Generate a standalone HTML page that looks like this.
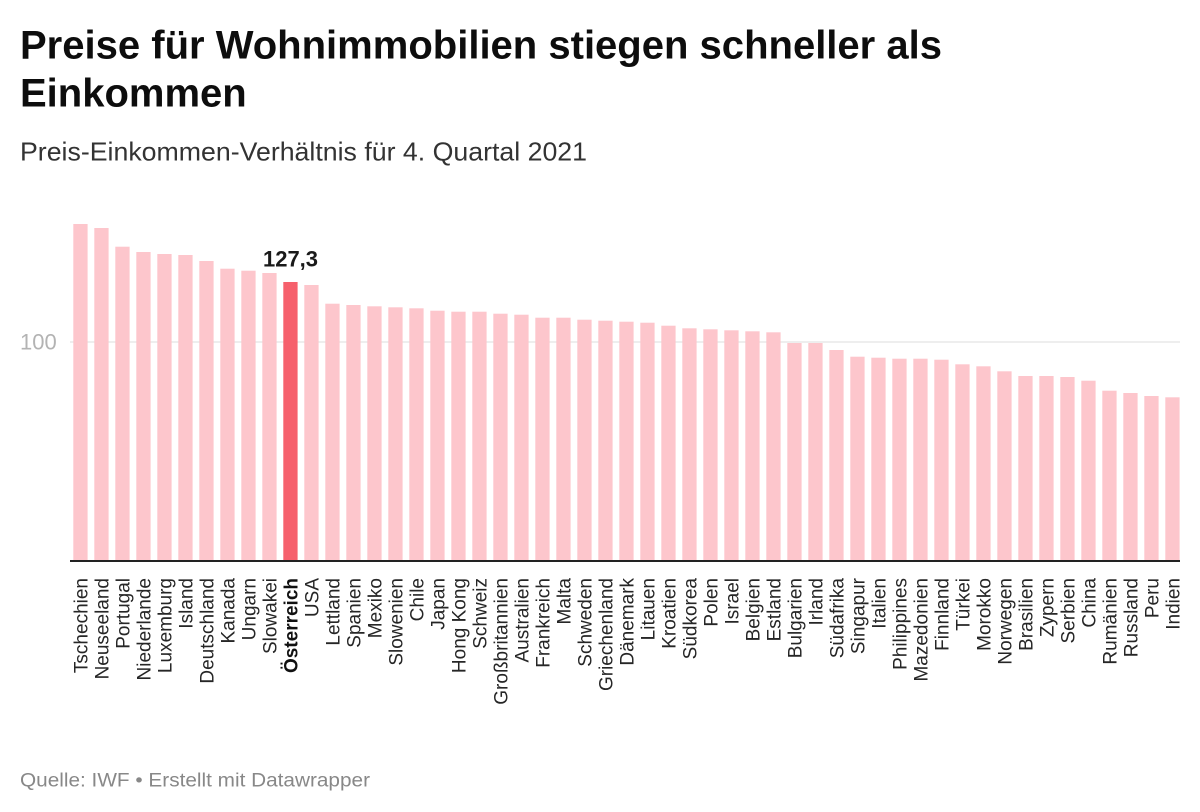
<!DOCTYPE html>
<html>
<head>
<meta charset="utf-8">
<style>
  html,body{margin:0;padding:0;background:#fff;}
  svg{display:block;}
  text{font-family:"Liberation Sans", Arial, sans-serif;}
</style>
</head>
<body>
<svg width="1200" height="812" viewBox="0 0 1200 812" xmlns="http://www.w3.org/2000/svg">
  <rect x="0" y="0" width="1200" height="812" fill="#ffffff"/>
  <!-- Title -->
  <text x="20" y="58.3" font-size="40" font-weight="bold" fill="#0d0d0d" textLength="922" lengthAdjust="spacingAndGlyphs">Preise für Wohnimmobilien stiegen schneller als</text>
  <text x="20" y="106.7" font-size="40" font-weight="bold" fill="#0d0d0d">Einkommen</text>
  <!-- Subtitle -->
  <text x="20" y="160.5" font-size="26" fill="#333333" textLength="567" lengthAdjust="spacingAndGlyphs">Preis-Einkommen-Verhältnis für 4. Quartal 2021</text>

  <!-- Gridline & label -->
  <line x1="70" y1="342" x2="1180" y2="342" stroke="#e3e3e3" stroke-width="1.2"/>
  <text x="20" y="349.5" font-size="22" fill="#b3b3b3">100</text>

  <!-- Bars -->
  <g fill="#fdc6cc">
    <rect x="73.3" y="224" width="14.3" height="337"/>
    <rect x="94.3" y="228" width="14.3" height="333"/>
    <rect x="115.3" y="246.7" width="14.3" height="314.3"/>
    <rect x="136.3" y="252" width="14.3" height="309"/>
    <rect x="157.3" y="254" width="14.3" height="307"/>
    <rect x="178.3" y="255" width="14.3" height="306"/>
    <rect x="199.3" y="261" width="14.3" height="300"/>
    <rect x="220.3" y="268.7" width="14.3" height="292.3"/>
    <rect x="241.3" y="270.7" width="14.3" height="290.3"/>
    <rect x="262.3" y="273" width="14.3" height="288"/>
    <rect x="304.3" y="285" width="14.3" height="276"/>
    <rect x="325.3" y="303.7" width="14.3" height="257.3"/>
    <rect x="346.3" y="305" width="14.3" height="256"/>
    <rect x="367.3" y="306.3" width="14.3" height="254.7"/>
    <rect x="388.3" y="307.3" width="14.3" height="253.7"/>
    <rect x="409.3" y="308.3" width="14.3" height="252.7"/>
    <rect x="430.3" y="310.7" width="14.3" height="250.3"/>
    <rect x="451.3" y="311.7" width="14.3" height="249.3"/>
    <rect x="472.3" y="311.7" width="14.3" height="249.3"/>
    <rect x="493.3" y="313.7" width="14.3" height="247.3"/>
    <rect x="514.3" y="314.7" width="14.3" height="246.3"/>
    <rect x="535.3" y="317.7" width="14.3" height="243.3"/>
    <rect x="556.3" y="317.7" width="14.3" height="243.3"/>
    <rect x="577.3" y="319.7" width="14.3" height="241.3"/>
    <rect x="598.3" y="320.7" width="14.3" height="240.3"/>
    <rect x="619.3" y="321.7" width="14.3" height="239.3"/>
    <rect x="640.3" y="322.7" width="14.3" height="238.3"/>
    <rect x="661.3" y="325.7" width="14.3" height="235.3"/>
    <rect x="682.3" y="328.3" width="14.3" height="232.7"/>
    <rect x="703.3" y="329.3" width="14.3" height="231.7"/>
    <rect x="724.3" y="330.3" width="14.3" height="230.7"/>
    <rect x="745.3" y="331.3" width="14.3" height="229.7"/>
    <rect x="766.3" y="332.3" width="14.3" height="228.7"/>
    <rect x="787.3" y="343" width="14.3" height="218"/>
    <rect x="808.3" y="343" width="14.3" height="218"/>
    <rect x="829.3" y="350" width="14.3" height="211"/>
    <rect x="850.3" y="356.7" width="14.3" height="204.3"/>
    <rect x="871.3" y="357.7" width="14.3" height="203.3"/>
    <rect x="892.3" y="358.7" width="14.3" height="202.3"/>
    <rect x="913.3" y="358.7" width="14.3" height="202.3"/>
    <rect x="934.3" y="359.7" width="14.3" height="201.3"/>
    <rect x="955.3" y="364.3" width="14.3" height="196.7"/>
    <rect x="976.3" y="366.3" width="14.3" height="194.7"/>
    <rect x="997.3" y="371.3" width="14.3" height="189.7"/>
    <rect x="1018.3" y="376" width="14.3" height="185"/>
    <rect x="1039.3" y="376" width="14.3" height="185"/>
    <rect x="1060.3" y="377" width="14.3" height="184"/>
    <rect x="1081.3" y="380.7" width="14.3" height="180.3"/>
    <rect x="1102.3" y="390.7" width="14.3" height="170.3"/>
    <rect x="1123.3" y="393" width="14.3" height="168"/>
    <rect x="1144.3" y="396" width="14.3" height="165"/>
    <rect x="1165.3" y="397.3" width="14.3" height="163.7"/>
  </g>
  <rect x="283.3" y="282" width="14.3" height="279" fill="#f6606c"/>
  <text x="290.5" y="266.5" font-size="22" font-weight="bold" fill="#1a1a1a" text-anchor="middle">127,3</text>

  <!-- Baseline -->
  <line x1="70" y1="561" x2="1180" y2="561" stroke="#222" stroke-width="2"/>

  <!-- X labels -->
  <g font-size="19" fill="#262626" text-anchor="end">
    <text transform="translate(87.5,578) rotate(-90)">Tschechien</text>
    <text transform="translate(108.5,578) rotate(-90)">Neuseeland</text>
    <text transform="translate(129.5,578) rotate(-90)">Portugal</text>
    <text transform="translate(150.5,578) rotate(-90)">Niederlande</text>
    <text transform="translate(171.5,578) rotate(-90)">Luxemburg</text>
    <text transform="translate(192.5,578) rotate(-90)">Island</text>
    <text transform="translate(213.5,578) rotate(-90)">Deutschland</text>
    <text transform="translate(234.5,578) rotate(-90)">Kanada</text>
    <text transform="translate(255.5,578) rotate(-90)">Ungarn</text>
    <text transform="translate(276.5,578) rotate(-90)">Slowakei</text>
    <text transform="translate(297.5,578) rotate(-90)" font-weight="bold" fill="#111">Österreich</text>
    <text transform="translate(318.5,578) rotate(-90)">USA</text>
    <text transform="translate(339.5,578) rotate(-90)">Lettland</text>
    <text transform="translate(360.5,578) rotate(-90)">Spanien</text>
    <text transform="translate(381.5,578) rotate(-90)">Mexiko</text>
    <text transform="translate(402.5,578) rotate(-90)">Slowenien</text>
    <text transform="translate(423.5,578) rotate(-90)">Chile</text>
    <text transform="translate(444.5,578) rotate(-90)">Japan</text>
    <text transform="translate(465.5,578) rotate(-90)">Hong Kong</text>
    <text transform="translate(486.5,578) rotate(-90)">Schweiz</text>
    <text transform="translate(507.5,578) rotate(-90)">Großbritannien</text>
    <text transform="translate(528.5,578) rotate(-90)">Australien</text>
    <text transform="translate(549.5,578) rotate(-90)">Frankreich</text>
    <text transform="translate(570.5,578) rotate(-90)">Malta</text>
    <text transform="translate(591.5,578) rotate(-90)">Schweden</text>
    <text transform="translate(612.5,578) rotate(-90)">Griechenland</text>
    <text transform="translate(633.5,578) rotate(-90)">Dänemark</text>
    <text transform="translate(654.5,578) rotate(-90)">Litauen</text>
    <text transform="translate(675.5,578) rotate(-90)">Kroatien</text>
    <text transform="translate(696.5,578) rotate(-90)">Südkorea</text>
    <text transform="translate(717.5,578) rotate(-90)">Polen</text>
    <text transform="translate(738.5,578) rotate(-90)">Israel</text>
    <text transform="translate(759.5,578) rotate(-90)">Belgien</text>
    <text transform="translate(780.5,578) rotate(-90)">Estland</text>
    <text transform="translate(801.5,578) rotate(-90)">Bulgarien</text>
    <text transform="translate(822.5,578) rotate(-90)">Irland</text>
    <text transform="translate(843.5,578) rotate(-90)">Südafrika</text>
    <text transform="translate(864.5,578) rotate(-90)">Singapur</text>
    <text transform="translate(885.5,578) rotate(-90)">Italien</text>
    <text transform="translate(906.5,578) rotate(-90)">Philippines</text>
    <text transform="translate(927.5,578) rotate(-90)">Mazedonien</text>
    <text transform="translate(948.5,578) rotate(-90)">Finnland</text>
    <text transform="translate(969.5,578) rotate(-90)">Türkei</text>
    <text transform="translate(990.5,578) rotate(-90)">Morokko</text>
    <text transform="translate(1011.5,578) rotate(-90)">Norwegen</text>
    <text transform="translate(1032.5,578) rotate(-90)">Brasilien</text>
    <text transform="translate(1053.5,578) rotate(-90)">Zypern</text>
    <text transform="translate(1074.5,578) rotate(-90)">Serbien</text>
    <text transform="translate(1095.5,578) rotate(-90)">China</text>
    <text transform="translate(1116.5,578) rotate(-90)">Rumänien</text>
    <text transform="translate(1137.5,578) rotate(-90)">Russland</text>
    <text transform="translate(1158.5,578) rotate(-90)">Peru</text>
    <text transform="translate(1179.5,578) rotate(-90)">Indien</text>
  </g>

  <!-- Footer -->
  <text x="20" y="786.5" font-size="19" fill="#888888" textLength="350" lengthAdjust="spacingAndGlyphs">Quelle: IWF • Erstellt mit Datawrapper</text>
</svg>
</body>
</html>
